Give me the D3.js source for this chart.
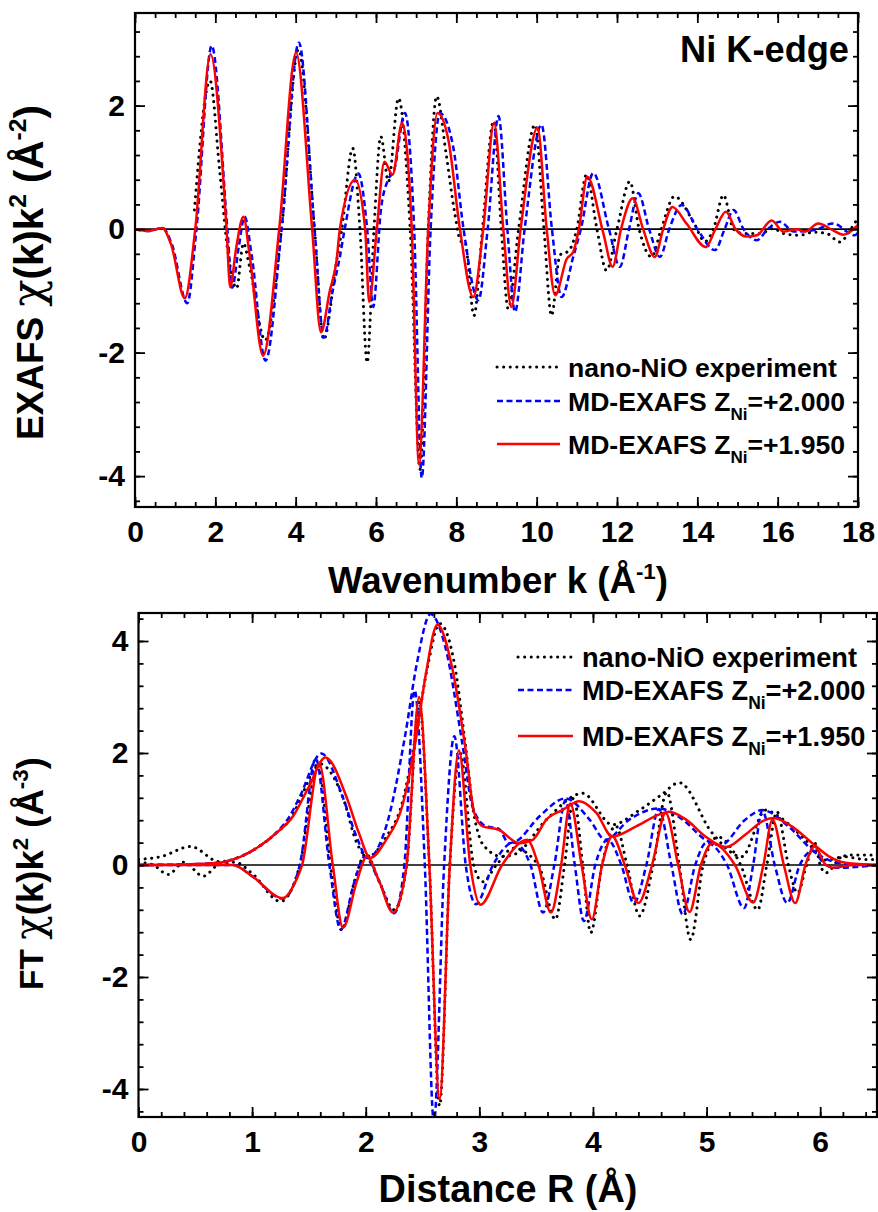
<!DOCTYPE html>
<html><head><meta charset="utf-8">
<script src="https://cdn.jsdelivr.net/npm/d3@7"></script>
<style>
body{margin:0;background:#fff}
svg{display:block}
text{font-family:"Liberation Sans",Arial,sans-serif;font-weight:bold;fill:#000}
</style></head><body>
<svg id="c" width="878" height="1212"></svg>
<script>
// ---------- Top panel: EXAFS chi(k)k^2 ----------
const kExp = [1.48,1.87,2.1,2.3,2.53,2.70,2.85,3.24,3.65,4.07,4.47,4.70,5.0,5.15,5.42,5.6,5.78,5.95,6.12,6.31,6.56,6.85,7.10,7.3,7.51,7.75,7.95,8.12,8.21,8.44,8.65,8.93,9.12,9.29,9.55,9.96,10.18,10.37,10.58,10.8,11.0,11.24,11.5,11.74,12.0,12.32,12.55,12.86,13.1,13.43,13.9,14.19,14.4,14.65,14.9,15.14,15.56,15.89,16.14,16.55,16.88,17.22,17.55,17.8,17.97];
const chiExp = [0.31,2.40,1.0,-0.3,-0.96,-0.23,-0.6,-1.80,0,2.91,0,-1.79,-0.6,0,1.31,0,-2.16,0,1.50,0.77,2.12,0,-3.89,0,2.15,1.2,0.3,-0.2,-0.2,-1.40,0,1.75,0,-1.29,0,1.69,0,-1.40,-0.42,-0.35,0,0.88,0,-0.67,0,0.77,0,-0.45,0,0.53,0.12,-0.2,0,0.55,0,-0.07,-0.07,0.01,-0.07,-0.1,-0.05,-0.07,-0.21,-0.02,0.15];

const kZ200 = [0,0.35,0.68,0.92,1.30,1.53,1.91,2.3,2.42,2.58,2.73,2.9,3.25,3.65,4.08,4.47,4.70,4.92,5.1,5.22,5.56,5.78,5.93,6.12,6.3,6.45,6.72,6.95,7.14,7.36,7.59,7.92,8.18,8.55,8.78,9.05,9.27,9.46,9.7,10.12,10.38,10.62,10.91,11.1,11.41,11.8,12.07,12.3,12.53,12.8,13.07,13.3,13.61,14.0,14.44,14.68,14.9,15.15,15.48,15.75,16.06,16.4,16.88,17.38,17.92,18];
const chiZ200 = [0,-0.03,0.02,-0.25,-1.2,0,2.97,0,-0.95,-0.3,0.2,-0.4,-2.13,0,3.02,0,-1.76,-1.0,-0.45,0,0.9,0,-1.26,0.3,0.8,0.95,1.88,0,-4.03,0,1.88,1.34,0,-1.15,0,1.83,0,-1.34,0,1.69,0,-1.1,-0.45,0,0.91,0,-0.61,0,0.58,0,-0.45,0,0.39,0,-0.34,0,0.31,0,-0.18,0,0.12,-0.04,-0.02,0.09,-0.1,-0.05];

const kZ195 = [0,0.35,0.68,0.9,1.24,1.50,1.88,2.28,2.37,2.52,2.70,2.85,3.19,3.59,4.01,4.41,4.63,4.85,5.02,5.10,5.48,5.73,5.83,6.02,6.21,6.41,6.65,6.89,7.07,7.30,7.53,7.8,8.09,8.42,8.67,8.94,9.17,9.37,9.6,10.02,10.25,10.46,10.75,10.91,11.05,11.26,11.66,11.89,12.1,12.39,12.65,12.94,13.15,13.38,13.73,14.21,14.45,14.71,14.95,15.23,15.48,15.85,16.14,16.46,16.68,17.01,17.38,17.63,18];
const chiZ195 = [0,-0.03,0.02,-0.25,-1.12,0,2.83,0,-0.94,-0.3,0.2,-0.4,-2.05,0,2.86,0,-1.67,-1.0,-0.5,0,0.80,0,-1.18,0,1.09,0.88,1.72,0,-3.81,0,1.88,1.45,0,-1.10,0,1.72,0,-1.26,0,1.64,0,-1.07,-0.48,-0.37,0,0.85,-0.07,-0.61,0,0.50,0,-0.45,0,0.36,0.09,-0.29,0,0.28,0,-0.12,-0.10,0.14,-0.04,0.0,-0.04,0.09,-0.02,-0.09,0.07];

const kTicks = [0,2,4,6,8,10,12,14,16,18];
const chiTicks = [-4,-2,0,2];

// ---------- Bottom panel: FT (magnitude and imaginary part) ----------
const rExpMag = [0,0.2,0.46,0.71,0.9,1.06,1.2,1.36,1.45,1.59,1.8,1.92,2.02,2.18,2.32,2.44,2.55,2.65,2.78,2.88,2.95,3.0,3.06,3.2,3.32,3.59,3.91,4.17,4.41,4.6,4.76,5.05,5.31,5.52,5.64,5.87,6.05,6.28,6.5];
const ftExpMag = [0.1,0.15,0.33,0.06,0.15,0.33,0.55,0.9,1.3,1.81,1.2,0.4,0.15,0.5,1.1,2.3,3.6,4.31,3.6,2.1,0.93,0.5,0.3,0.15,0.2,0.81,1.28,0.72,0.98,1.25,1.47,0.57,0.15,0.98,0.86,0.45,0.09,0.18,0.18];
const rExpIm = [0,0.13,0.26,0.4,0.57,0.7,0.85,1.0,1.25,1.42,1.58,1.69,1.79,1.9,2.0,2.12,2.25,2.36,2.47,2.56,2.65,2.74,2.83,2.95,3.03,3.15,3.3,3.52,3.67,3.75,3.83,3.91,3.98,4.08,4.2,4.3,4.41,4.53,4.65,4.76,4.86,4.97,5.1,5.3,5.45,5.53,5.62,5.72,5.80,5.88,5.95,6.0,6.05,6.2,6.4,6.5];
const ftExpIm = [0.05,0,-0.17,0.05,-0.2,0,0.05,-0.15,-0.65,0,1.8,0,-1.16,-0.3,0.2,-0.3,-0.8,0,2.9,0,-4.3,0,2.0,0,-0.3,0,0.3,0,-0.97,0,1.2,0,-1.21,0,0.7,0,-0.91,0,1.3,0,-1.33,0,0.5,0,-0.80,0,0.95,0,-0.5,0,0.4,0,-0.14,0.15,0.1,0.1];

const rZ200Mag = [0,0.4,0.7,0.9,1.06,1.2,1.33,1.42,1.61,1.8,1.92,2.02,2.18,2.35,2.45,2.57,2.7,2.85,2.94,3.06,3.17,3.26,3.32,3.53,3.76,3.97,4.11,4.32,4.58,4.79,4.99,5.12,5.34,5.49,5.72,5.93,6.1,6.3,6.5];
const ftZ200Mag = [0,0.01,0.04,0.15,0.33,0.55,0.87,1.22,1.99,1.2,0.5,0.12,0.69,2.35,3.6,4.48,3.9,2.17,1.04,0.69,0.65,0.39,0.42,0.87,1.19,0.81,0.45,0.81,1.01,0.81,0.45,0.35,0.81,0.98,0.69,0.27,0.07,0.01,0];
const rZ200Im = [0,0.83,1.0,1.27,1.42,1.56,1.68,1.78,1.9,1.99,2.12,2.25,2.34,2.43,2.52,2.60,2.69,2.78,2.88,2.97,3.12,3.3,3.45,3.56,3.66,3.76,3.84,3.92,4.02,4.13,4.25,4.36,4.47,4.58,4.69,4.79,4.9,5.0,5.18,5.33,5.41,5.49,5.6,5.71,5.82,5.93,6.05,6.15,6.5];
const ftZ200Im = [0,0,-0.2,-0.6,0,1.9,0,-1.15,-0.3,0.15,-0.3,-0.86,0,3.12,0,-4.6,0,2.3,0,-0.7,0,0.4,0,-0.85,0,1.16,0,-1.0,0,0.45,0,-0.68,0,1.0,0,-0.88,0,0.4,0,-0.77,0,0.97,0,-0.68,0,0.25,0,-0.05,0];

const rZ195Mag = [0,0.4,0.71,0.9,1.06,1.2,1.36,1.50,1.645,1.83,1.94,2.04,2.18,2.32,2.44,2.53,2.63,2.76,2.88,2.955,3.03,3.17,3.35,3.47,3.59,3.73,3.88,4.03,4.17,4.38,4.58,4.67,4.82,4.99,5.17,5.34,5.49,5.59,5.75,5.93,6.08,6.22,6.5];
const ftZ195Mag = [0,0.01,0.04,0.15,0.33,0.55,0.87,1.40,1.92,1.22,0.57,0.13,0.45,1.04,2.23,3.42,4.29,3.53,2.05,0.93,0.69,0.63,0.39,0.45,0.81,0.98,1.14,0.93,0.51,0.69,0.90,0.95,0.81,0.51,0.32,0.54,0.78,0.84,0.69,0.39,0.15,0.04,0];
const rZ195Im = [0,0.5,0.83,1.0,1.27,1.39,1.44,1.59,1.71,1.80,1.92,2.01,2.12,2.24,2.36,2.47,2.56,2.65,2.74,2.82,2.92,3.01,3.2,3.42,3.52,3.63,3.72,3.80,3.90,3.99,4.08,4.17,4.28,4.40,4.52,4.64,4.75,4.85,4.95,5.05,5.25,5.41,5.5,5.58,5.68,5.78,5.87,5.95,6.05,6.12,6.3,6.5];
const ftZ195Im = [0,0,0,-0.2,-0.59,-0.26,0,1.81,0,-1.12,-0.3,0.15,-0.3,-0.85,0,3.0,0,-4.18,0,2.05,0,-0.71,0,0.45,0,-0.85,0,1.10,0,-0.97,0,0.51,0,-0.68,0,0.93,0,-0.84,0,0.39,0,-0.67,0,0.81,0,-0.68,0,0.33,0,-0.05,0,0];

const rTicks = [0,1,2,3,4,5,6];
const ftTicks = [-4,-2,0,2,4];

const legendLabels = ["nano-NiO experiment", "MD-EXAFS Z", "MD-EXAFS Z"];
const legendValues = ["", "=+2.000", "=+1.950"];

// ---------- drawing ----------
const svg = d3.select("#c");
const styles = {
  exp:  {stroke:"#000", width:3, dash:"0.1 6.5", cap:"round"},
  z200: {stroke:"#0000ff", width:2.5, dash:"6 3.5", cap:"butt"},
  z195: {stroke:"#ff0000", width:2.5, dash:null, cap:"butt"}
};

function range(a, b, s){ const out=[]; for(let i=0; a+i*s<=b+1e-9; i++) out.push(+(a+i*s).toFixed(4)); return out; }

// scale a text (placed at 0,0 inside group g) so that its advance length equals target
function fit(g, textSel, target, base) {
  const len = textSel.node().getComputedTextLength();
  const s = (len > 0 && target) ? Math.min(1.2, Math.max(0.85, target / len)) : 1;
  g.attr("transform", base + ` scale(${s})`);
}

function panel(id, x, y, xMajor, xMinor, yMajor, yMinor, series) {
  const g = svg.append("g");
  const [x0,x1] = x.range(), [y0,y1] = y.range();
  g.append("clipPath").attr("id", id).append("rect")
    .attr("x", x0).attr("y", y1).attr("width", x1-x0).attr("height", y0-y1);
  const plot = g.append("g").attr("clip-path", `url(#${id})`);
  plot.append("line").attr("x1", x0).attr("x2", x1).attr("y1", y(0)).attr("y2", y(0))
    .attr("stroke", "#000").attr("stroke-width", 1.6);
  const line = d3.line().x(d=>x(d[0])).y(d=>y(d[1])).curve(d3.curveMonotoneX);
  series.forEach(s => {
    const st = styles[s.style];
    plot.append("path").datum(d3.zip(s.x, s.y)).attr("d", line)
      .attr("fill","none").attr("stroke", st.stroke).attr("stroke-width", st.width)
      .attr("stroke-dasharray", st.dash).attr("stroke-linecap", st.cap).attr("stroke-linejoin","round");
  });
  const fmt = d => String(d);
  const ax = (gen, tr) => {
    const a = g.append("g").attr("transform", tr).call(gen);
    a.select(".domain").remove();
    a.selectAll("line").attr("stroke","#000").attr("stroke-width",1.8);
    a.selectAll("text").style("font-size","30px").style("font-family","'Liberation Sans',Arial,sans-serif").style("font-weight","bold");
    return a;
  };
  ax(d3.axisBottom(x).tickValues(xMajor).tickSize(-10).tickSizeOuter(0).tickPadding(14).tickFormat(fmt), `translate(0,${y0})`);
  ax(d3.axisBottom(x).tickValues(xMinor).tickSize(-5).tickSizeOuter(0).tickFormat(""), `translate(0,${y0})`);
  ax(d3.axisTop(x).tickValues(xMajor).tickSize(-10).tickSizeOuter(0).tickFormat(""), `translate(0,${y1})`);
  ax(d3.axisTop(x).tickValues(xMinor).tickSize(-5).tickSizeOuter(0).tickFormat(""), `translate(0,${y1})`);
  ax(d3.axisLeft(y).tickValues(yMajor).tickSize(-10).tickSizeOuter(0).tickPadding(10).tickFormat(fmt), `translate(${x0},0)`);
  ax(d3.axisLeft(y).tickValues(yMinor).tickSize(-5).tickSizeOuter(0).tickFormat(""), `translate(${x0},0)`);
  ax(d3.axisRight(y).tickValues(yMajor).tickSize(-10).tickSizeOuter(0).tickFormat(""), `translate(${x1},0)`);
  ax(d3.axisRight(y).tickValues(yMinor).tickSize(-5).tickSizeOuter(0).tickFormat(""), `translate(${x1},0)`);
  g.append("rect").attr("x", x0).attr("y", y1).attr("width", x1-x0).attr("height", y0-y1)
    .attr("fill","none").attr("stroke","#000").attr("stroke-width",2.2);
  return g;
}

function legend(x0, x1, tx, rows, firstWidth) {
  const keys = ["exp","z200","z195"];
  let scale = 1;
  rows.forEach((cy, i) => {
    const st = styles[keys[i]];
    svg.append("line").attr("x1", x0).attr("x2", x1).attr("y1", cy).attr("y2", cy)
      .attr("stroke", st.stroke).attr("stroke-width", st.width).attr("stroke-dasharray", st.dash).attr("stroke-linecap", st.cap);
    const g = svg.append("g");
    const t = g.append("text").attr("x", 0).attr("y", 9.5).style("font-size","26.5px");
    t.append("tspan").text(legendLabels[i]);
    if (legendValues[i]) {
      t.append("tspan").attr("dy", 9).style("font-size","17px").text("Ni");
      t.append("tspan").attr("dy", -9).text(legendValues[i]);
    }
    if (i === 0) {
      const len = t.node().getComputedTextLength();
      scale = len > 0 ? Math.min(1.1, Math.max(0.9, firstWidth / len)) : 1;
    }
    g.attr("transform", `translate(${tx},${cy}) scale(${scale})`);
  });
}

function yTitle(x, yStart, target, head, unitExp) {
  const g = svg.append("g");
  const v = g.append("text").attr("text-anchor","start").style("font-size","33px");
  v.append("tspan").text(head + " ");
  v.append("tspan").style("font-weight","normal").style("font-family","'DejaVu Serif',serif").style("font-size","40px").text("χ");
  v.append("tspan").style("font-size","36px").text("(k)k");
  v.append("tspan").attr("dy",-15).style("font-size","22px").text("2");
  v.append("tspan").attr("dy",15).style("font-size","36px").text(" (Å");
  v.append("tspan").attr("dy",-15).style("font-size","22px").text(unitExp);
  v.append("tspan").attr("dy",15).style("font-size","36px").text(")");
  fit(g, v, target, `translate(${x},${yStart}) rotate(-90)`);
}

// Top panel
const xT = d3.scaleLinear([0,18],[135,858]);
const yT = d3.scaleLinear([-4.5,3.5],[507,13]);
panel("clipT", xT, yT, kTicks, range(0,18,0.5), chiTicks, range(-4.4,3.5,0.4), [
  {x:kExp, y:chiExp, style:"exp"},
  {x:kZ200, y:chiZ200, style:"z200"},
  {x:kZ195, y:chiZ195, style:"z195"}
]);
legend(497, 560, 568, [367, 401, 444], 269);
{
  const g = svg.append("g");
  const t = g.append("text").attr("text-anchor","end").style("font-size","36px").text("Ni K-edge");
  fit(g, t, 169, "translate(849,62)");
}
{
  const g = svg.append("g");
  const t = g.append("text").attr("text-anchor","middle").style("font-size","36px");
  t.append("tspan").text("Wavenumber k (Å");
  t.append("tspan").attr("dy",-14).style("font-size","22px").text("-1");
  t.append("tspan").attr("dy",14).text(")");
  fit(g, t, 340, "translate(498,593)");
}
yTitle(43, 440, 335, "EXAFS", "-2");

// Bottom panel
const xB = d3.scaleLinear([0,6.5],[138.5,877]);
const yB = d3.scaleLinear([-4.5,4.5],[1117,613]);
panel("clipB", xB, yB, rTicks, range(0,6.5,0.2), ftTicks, range(-4.4,4.5,0.4), [
  {x:rExpMag, y:ftExpMag, style:"exp"},
  {x:rExpIm, y:ftExpIm, style:"exp"},
  {x:rZ200Mag, y:ftZ200Mag, style:"z200"},
  {x:rZ200Im, y:ftZ200Im, style:"z200"},
  {x:rZ195Mag, y:ftZ195Mag, style:"z195"},
  {x:rZ195Im, y:ftZ195Im, style:"z195"}
]);
legend(518, 573, 582, [657, 690, 736], 275);
{
  const g = svg.append("g");
  const t = g.append("text").attr("text-anchor","middle").style("font-size","37px").text("Distance R (Å)");
  fit(g, t, 259, "translate(508,1202)");
}
yTitle(43, 990, 233, "FT", "-3");
</script>
</body></html>
